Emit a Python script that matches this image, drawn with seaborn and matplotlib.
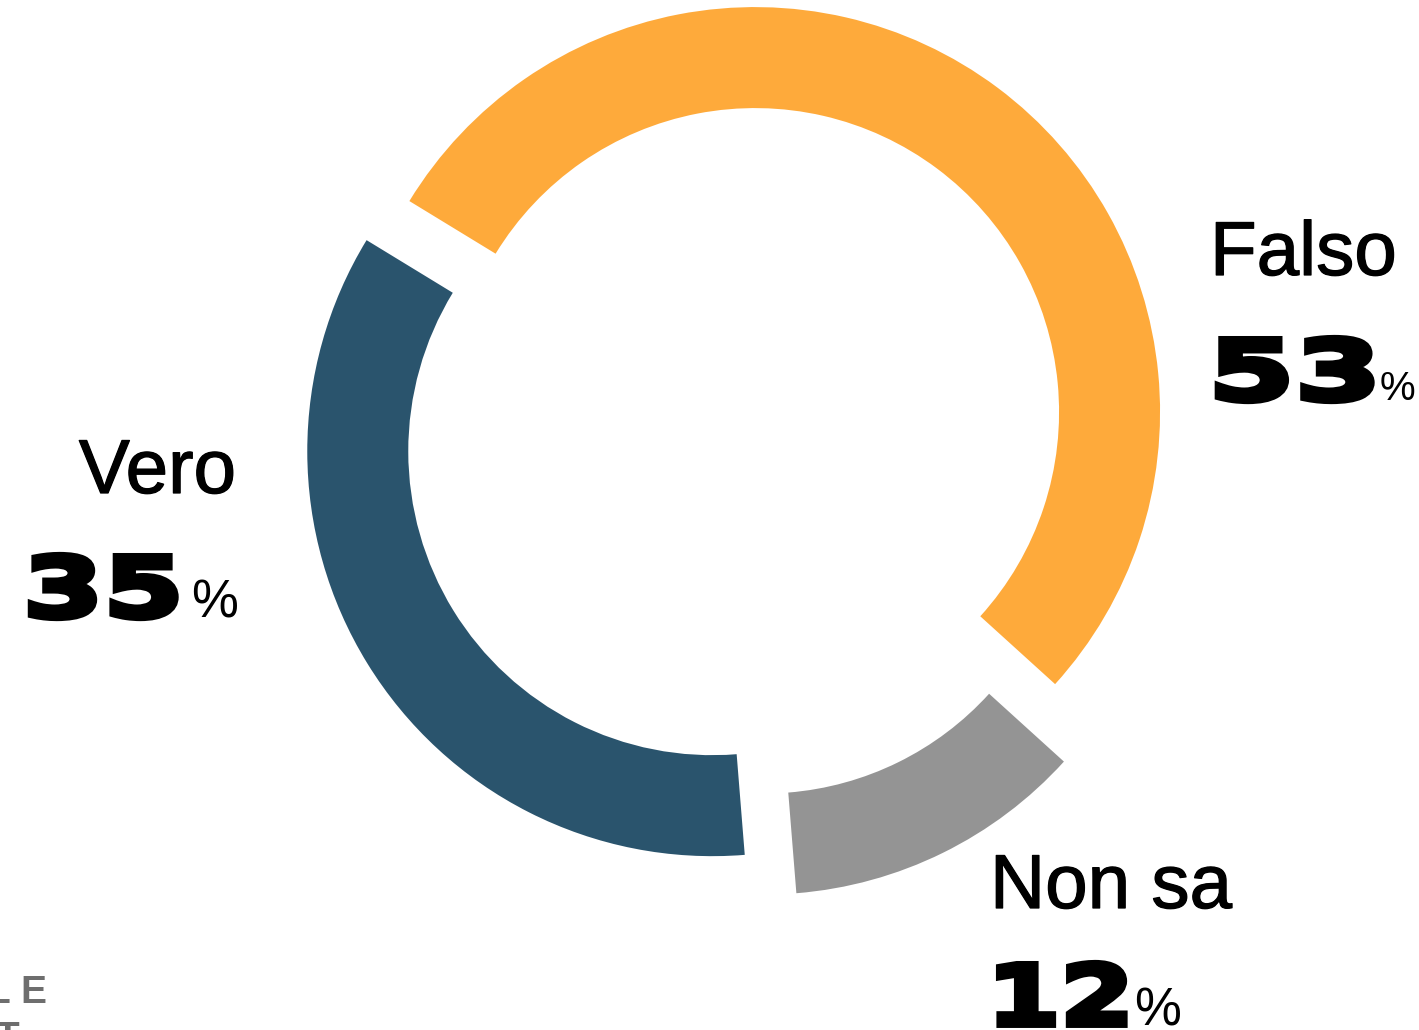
import matplotlib
matplotlib.use("Agg")
import matplotlib.pyplot as plt
import matplotlib.transforms as mtransforms
import matplotlib.patheffects as pe
from matplotlib.patheffects import AbstractPathEffect
import seaborn as sns

# Survey answers
categories = ["Falso", "Non sa", "Vero"]
values = [53, 12, 35]
colors = ["#FEAA3B", "#949494", "#2A546D"]

sns.set_theme(style="white")
plt.rcParams["font.family"] = ["Liberation Sans", "DejaVu Sans"]

W, H = 1419, 1030
fig = plt.figure(figsize=(W / 100, H / 100), dpi=100)
fig.patch.set_facecolor("white")
ax = fig.add_axes([0, 0, 1, 1])

# Donut: axes units are pixels, y measured from the bottom
center = (737.4, H - 435.7)
ax.pie(
    values,
    colors=colors,
    startangle=148.6,
    counterclock=False,
    radius=405,
    center=center,
    explode=[29.5, 60, 29.5],
    wedgeprops=dict(width=101, linewidth=0),
    frame=False,
)
ax.set_xlim(0, W)
ax.set_ylim(0, H)
ax.set_aspect("equal")
ax.axis("off")


class WideHeavy(AbstractPathEffect):
    """Stretch glyphs horizontally around the text origin and thicken them."""

    def __init__(self, sx, stroke_pt):
        super().__init__()
        self._sx = sx
        self._lw = stroke_pt

    def draw_path(self, renderer, gc, tpath, affine, rgbFace=None):
        stretched = mtransforms.Affine2D().scale(self._sx, 1.0) + affine
        gc0 = renderer.new_gc()
        gc0.copy_properties(gc)
        gc0.set_linewidth(self._lw)
        gc0.set_joinstyle("miter")
        gc0.set_foreground(rgbFace)
        renderer.draw_path(gc0, tpath, stretched, rgbFace)
        gc0.restore()


NUM_FONT = dict(family="DejaVu Sans", weight="bold", size=60.3, color="black")
LBL_FONT = dict(family="Liberation Sans", size=55, color="black")
LBL_EFFECT = [pe.withStroke(linewidth=0.9, foreground="black")]

fig.canvas.draw()
renderer = fig.canvas.get_renderer()


def text_width(s, **kw):
    t = ax.text(0, 0, s, **kw)
    w = t.get_window_extent(renderer).width
    t.remove()
    return w


# label x, label baseline, label alignment, number x, number baseline,
# horizontal stretch of the number, size of the percent sign, gap before it
layout = {
    "Falso": (1210, 275, "left", 1208, 400, 1.49, 29, -2),
    "Non sa": (990, 908, "left", 987, 1025, 1.26, 38, 0),
    "Vero": (236, 493, "right", 23, 617, 1.38, 38, 8),
}

for cat, val in zip(categories, values):
    lx, ly, align, nx, ny, sx, psize, gap = layout[cat]
    ax.text(lx, H - ly, cat, ha=align, va="baseline",
            path_effects=LBL_EFFECT, **LBL_FONT)
    num = f"{val}"
    wn = text_width(num, **NUM_FONT) * sx
    ax.text(nx, H - ny, num, ha="left", va="baseline",
            path_effects=[WideHeavy(sx, 4.25)], **NUM_FONT)
    ax.text(nx + wn + gap, H - ny, "%", ha="left", va="baseline",
            family="Liberation Sans", size=psize, color="black")

# Corner logo, partly outside the canvas
logo = dict(family="Liberation Sans", weight="bold", size=28, color="#6e6e6e",
            ha="left", va="baseline")
ax.text(-14, H - 1003, "L", **logo)
ax.text(20, H - 1003, "E", **logo)
ax.text(-4, H - 1049, "T", **logo)

fig.savefig("out.png", dpi=100, facecolor="white")
